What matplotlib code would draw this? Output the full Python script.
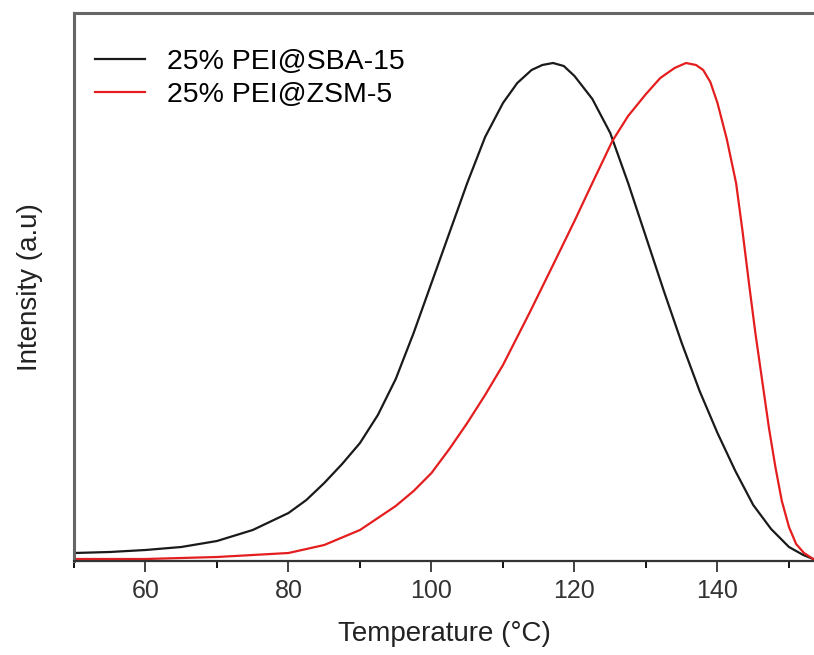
import matplotlib
matplotlib.use('Agg')
import matplotlib.pyplot as plt
from matplotlib.ticker import MultipleLocator

plt.rcParams['font.family'] = ['Liberation Sans', 'DejaVu Sans']

# temperature (C) and intensity (a.u.)
sba_T = [50, 55, 60, 65, 70, 75, 80, 82.5, 85, 87.5, 90, 92.5, 95, 97.5, 100, 102.5,
         105, 107.5, 110, 112, 114, 115.5, 117, 118.5, 120, 122.5, 125, 127.5, 130,
         132.5, 135, 137.5, 140, 142.5, 145, 147.5, 150, 152, 153.4]
sba_I = [8, 9, 11, 14, 20, 31, 48, 61, 78, 97, 118, 146, 182, 228, 278, 328,
         378, 424, 458, 478, 491, 496, 498, 495, 485, 462, 428, 378, 324,
         270, 218, 170, 128, 90, 56, 32, 14, 6, 2]

zsm_T = [50, 60, 70, 75, 80, 85, 90, 95, 97.5, 100, 102.5, 105, 107.5, 110, 113.7,
         117, 120, 122.5, 125.3, 127.5, 130, 132, 134, 135.6, 137, 138, 139, 140,
         141.3, 142.6, 143.5, 144.4, 145.3, 146.3, 147.2, 148.1, 149, 150, 151,
         152.1, 153.4]
zsm_I = [2, 2, 4, 6, 8, 16, 31, 55, 70, 88, 112, 138, 166, 196, 248,
         296, 340, 378, 420, 445, 467, 483, 493, 498, 496, 491, 479, 458,
         422, 378, 330, 278, 228, 178, 133, 94, 60, 34, 17,
         8, 2]

labels = ['25% PEI@SBA-15', '25% PEI@ZSM-5']

fig = plt.figure(figsize=(8.14, 6.55), dpi=100)
ax = fig.add_axes([74 / 814, (655 - 561) / 655, (814 - 74) / 814, (561 - 13) / 655])

ax.plot(sba_T, sba_I, color='#1a1a1a', lw=1.6, label=labels[0])
ax.plot(zsm_T, zsm_I, color='#e41e1e', lw=1.6, label=labels[1])

ax.set_xlim(50, 153.5)
ax.set_ylim(0, 548)

ax.xaxis.set_major_locator(MultipleLocator(20))
ax.xaxis.set_minor_locator(MultipleLocator(10))
ax.tick_params(axis='x', which='major', direction='out', length=8, width=1.3,
               labelsize=18, pad=5, colors='#333333')
ax.tick_params(axis='x', which='minor', direction='out', length=5, width=1.3)
ax.set_yticks([])

for side in ['left', 'top']:
    ax.spines[side].set_color('#666666')
    ax.spines[side].set_linewidth(2.2)
ax.spines['bottom'].set_color('#333333')
ax.spines['bottom'].set_linewidth(1.6)
ax.spines['right'].set_visible(False)

ax.set_xlabel('Temperature (°C)', fontsize=20, labelpad=13, color='#222222')
ax.set_ylabel('Intensity (a.u)', fontsize=20, labelpad=22, color='#222222')

ax.legend(loc='upper left', bbox_to_anchor=(0.029, 0.935), frameon=False,
          fontsize=20.5, handlelength=1.75, handletextpad=0.75, labelspacing=0.25,
          borderaxespad=0, borderpad=0)

fig.savefig('out.png', dpi=100)
